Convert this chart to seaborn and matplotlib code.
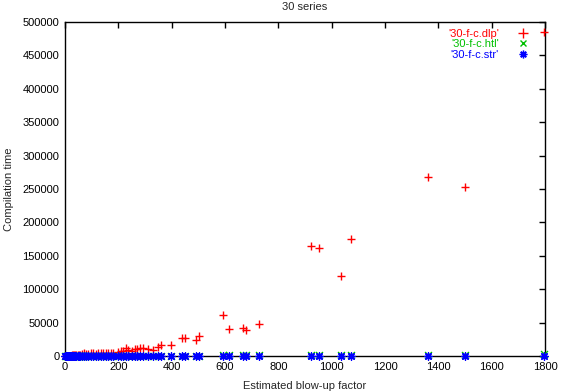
import matplotlib
matplotlib.use("Agg")
import matplotlib.pyplot as plt
import seaborn as sns
import numpy as np
from matplotlib.lines import Line2D

# ---- data ----
blowup = [0, 3, 6, 9, 12, 15, 18, 22, 26, 30, 34, 38, 43, 48, 53, 58, 64,
          71, 80, 88, 97, 106, 115, 125, 135, 144, 153, 162, 172, 181, 200,
          210, 219, 229, 238, 250, 262, 271, 281, 294, 312, 331, 348, 359,
          397, 437, 450, 490, 504, 592, 615, 666, 677, 729, 921, 954, 1036,
          1071, 1361, 1500, 1797]
dlp_time = [200, 300, 300, 400, 500, 500, 600, 700, 800, 900, 1000, 1200,
            1300, 1500, 1800, 2000, 2500,
            4000, 3500, 3500, 4000, 4000, 3500, 4000, 4000, 4500, 4000,
            5000, 4500, 4500, 6500, 7000, 8000, 11500, 9000, 8000, 10000,
            10500, 11500, 11500, 10000, 9000, 13000, 16000, 16500, 27000,
            27000, 24000, 30000, 61000, 40500, 41400, 39000, 47500, 164700,
            162000, 119800, 174700, 268000, 253000, 485000]
htl_time = [10, 10, 20, 20, 30, 30, 40, 40, 50, 60, 60, 70, 80, 90, 100,
            110, 120, 130, 140, 150, 160, 170, 180, 190, 200, 210, 220, 230,
            240, 250, 270, 280, 300, 320, 330, 350, 370, 380, 400, 420, 450,
            480, 500, 520, 580, 640, 660, 720, 740, 880, 900, 980, 1000,
            1080, 1380, 1420, 1550, 1600, 2000, 2200, 2600]
str_time = [1, 1, 2, 2, 3, 3, 4, 4, 5, 5, 6, 6, 7, 8, 8, 9, 10, 11, 12, 13,
            14, 15, 16, 17, 18, 19, 20, 21, 22, 23, 25, 26, 27, 28, 29, 31,
            32, 33, 35, 36, 38, 40, 42, 43, 48, 52, 54, 58, 60, 70, 72, 78,
            80, 85, 108, 112, 120, 125, 160, 175, 210]
series_labels = ["'30-f-c.dlp'", "'30-f-c.htl'", "'30-f-c.str'"]
series_colors = ["#ff0000", "#00c000", "#0000ff"]
title_text = "30 series"
xlabel_text = "Estimated blow-up factor"
ylabel_text = "Compilation time"
xticks = [0, 200, 400, 600, 800, 1000, 1200, 1400, 1600, 1800]
yticks = [0, 50000, 100000, 150000, 200000, 250000, 300000, 350000, 400000,
          450000, 500000]

sns.set_style("white")
plt.rcParams["font.family"] = ["Liberation Sans", "DejaVu Sans"]
plt.rcParams["font.size"] = 8

fig = plt.figure(figsize=(5.63, 3.92), dpi=100)
ax = fig.add_axes([65 / 563, 1 - 356 / 392, 480 / 563, 334 / 392])

star = (8, 2, 0)
sns.scatterplot(x=blowup, y=dlp_time, ax=ax, marker="+", color=series_colors[0],
                s=40, linewidth=1.0, zorder=3, clip_on=False)
sns.scatterplot(x=blowup, y=htl_time, ax=ax, marker="x", color=series_colors[1],
                s=25, linewidth=1.0, zorder=4, clip_on=False)
sns.scatterplot(x=blowup, y=str_time, ax=ax, marker=star, color=series_colors[2],
                s=28, linewidth=1.0, zorder=5, clip_on=False)

ax.set_xlim(0, 1800)
ax.set_ylim(0, 500000)
ax.set_xticks(xticks)
ax.set_xticklabels([str(t) for t in xticks])
ax.set_yticks(yticks)
ax.set_yticklabels([str(t) for t in yticks])
ax.tick_params(direction="in", length=4, width=1, top=True, right=True,
               labelsize=8, pad=4, colors="black")
for sp in ax.spines.values():
    sp.set_visible(True)
    sp.set_color("black")
    sp.set_linewidth(1)

ax.set_title(title_text, fontsize=8, pad=8.5)
ax.set_xlabel(xlabel_text, fontsize=8, labelpad=6.5)
ax.set_ylabel(ylabel_text, fontsize=8, labelpad=6)

handles = [
    Line2D([], [], linestyle="none", marker="+", color=series_colors[0],
           markersize=6.5, markeredgewidth=1.0),
    Line2D([], [], linestyle="none", marker="x", color=series_colors[1],
           markersize=4.5, markeredgewidth=1.0),
    Line2D([], [], linestyle="none", marker=star, color=series_colors[2],
           markersize=5.5, markeredgewidth=1.0),
]
leg = ax.legend(handles, series_labels, loc="upper right", frameon=False,
                markerfirst=False, labelcolor=series_colors, fontsize=8,
                handlelength=1.5, handletextpad=1.4, labelspacing=0.05,
                borderaxespad=0.2, bbox_to_anchor=(0.985, 1.0))

fig.savefig("out.png", dpi=100)
